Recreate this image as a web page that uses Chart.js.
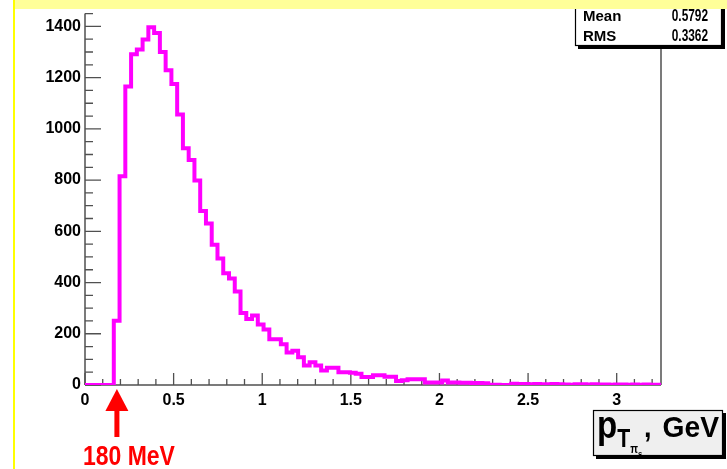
<!DOCTYPE html>
<html>
<head>
<meta charset="utf-8">
<script src="https://cdn.jsdelivr.net/npm/chart.js@4.4.1/dist/chart.umd.min.js"></script>
<style>
  html, body { margin: 0; padding: 0; background: #ffffff; overflow: hidden; }
  canvas { display: block; }
</style>
</head>
<body>
<canvas id="c" width="727" height="469"></canvas>
<script>
// Histogram binning: 100 bins between 0 and 3.25 GeV
const binLow = 0;
const binHigh = 3.25;
const nBins = 100;

// Entries per bin
const counts = [
  0, 0, 0, 0, 0, 251, 815, 1165, 1291, 1310,
  1349, 1397, 1374, 1300, 1229, 1175, 1056, 924, 878, 798,
  679, 631, 548, 494, 436, 416, 365, 281, 258, 271,
  236, 217, 179, 179, 159, 127, 134, 108, 76, 89,
  76, 57, 67, 67, 50, 50, 48, 44, 31, 31,
  38, 38, 32, 32, 16, 19, 22, 22, 22, 10,
  10, 10, 18, 10, 10, 9, 9, 8, 8, 7,
  1, 1, 0, 0, 5, 4, 4, 3, 4, 3,
  3, 4, 3, 2, 1, 3, 3, 2, 3, 2,
  2, 1, 2, 2, 1, 2, 1, 2, 1, 1
];

// Axis ticks
const xMajorTicks = [0, 0.5, 1, 1.5, 2, 2.5, 3];
const xTickLabels = ['0', '0.5', '1', '1.5', '2', '2.5', '3'];
const xMinorStep = 0.1;
const yMajorTicks = [0, 200, 400, 600, 800, 1000, 1200, 1400];
const yTickLabels = ['0', '200', '400', '600', '800', '1000', '1200', '1400'];
const yMinorStep = 50;
const yMax = 1450;

// Statistics box entries
const statNames = ['Mean', 'RMS'];
const statValues = ['0.5792', '0.3362'];

// Threshold marker
const thresholdGeV = 0.18;
const thresholdLabel = '180 MeV';

const FONT = "'Liberation Sans', Arial, sans-serif";
const HIST_COLOR = '#ff00ff';
const AXIS_COLOR = '#505050';

// Step outline points: one point per bin lower edge plus the last upper edge
const binWidth = (binHigh - binLow) / nBins;
const outline = counts.map((v, i) => ({ x: binLow + i * binWidth, y: v }));
outline.push({ x: binHigh, y: counts[counts.length - 1] });

function isMajor(value, majors) {
  return majors.some(m => Math.abs(m - value) < 1e-6);
}

// Text drawn with an optional horizontal squeeze (condensed lettering)
function squeezedText(ctx, text, x, y, font, sx, align) {
  ctx.save();
  ctx.font = font;
  const w = ctx.measureText(text).width * sx;
  let left = x;
  if (align === 'right') left = x - w;
  else if (align === 'center') left = x - w / 2;
  ctx.translate(left, y);
  ctx.scale(sx, 1);
  ctx.textAlign = 'left';
  ctx.textBaseline = 'alphabetic';
  ctx.fillText(text, 0, 0);
  ctx.restore();
  return w;
}

// Inward-pointing axis ticks, drawn from the scales
const rootAxes = {
  id: 'rootAxes',
  beforeDatasetsDraw(chart) {
    const { ctx, chartArea: a, scales: { x, y } } = chart;
    ctx.save();
    ctx.strokeStyle = AXIS_COLOR;
    ctx.lineWidth = 1.5;
    const y0 = y.getPixelForValue(0);
    const x0 = x.getPixelForValue(binLow);
    const xr = x.getPixelForValue(binHigh);
    ctx.beginPath();
    ctx.moveTo(a.left, y0); ctx.lineTo(a.right, y0);
    ctx.moveTo(x0, y0); ctx.lineTo(x0, a.top);
    ctx.moveTo(xr, y0); ctx.lineTo(xr, a.top);
    ctx.stroke();
    ctx.lineWidth = 1.3;
    ctx.beginPath();
    x.ticks.forEach(t => {
      const px = x.getPixelForValue(t.value);
      const len = isMajor(t.value, xMajorTicks) ? 12 : 6;
      ctx.moveTo(px, y0); ctx.lineTo(px, y0 - len);
    });
    y.ticks.forEach(t => {
      const py = y.getPixelForValue(t.value);
      const len = isMajor(t.value, yMajorTicks) ? 16 : 8;
      ctx.moveTo(x0, py); ctx.lineTo(x0 + len, py);
    });
    ctx.stroke();
    ctx.restore();
  }
};

function shadowBox(ctx, l, t, r, b, fill) {
  ctx.fillStyle = '#000000';
  ctx.fillRect(l + 3, t + 3, r - l, b - t);
  ctx.fillStyle = fill;
  ctx.fillRect(l, t, r - l, b - t);
  ctx.strokeStyle = '#000000';
  ctx.lineWidth = 1.2;
  ctx.strokeRect(l + 0.5, t + 0.5, r - l - 1, b - t - 1);
}

// Statistics box, axis title, threshold arrow and page decorations
const decorations = {
  id: 'decorations',
  afterDraw(chart) {
    const { ctx, scales: { x } } = chart;
    ctx.save();

    // statistics box
    shadowBox(ctx, 575, -10, 722, 46, '#ffffff');
    ctx.fillStyle = '#000000';
    statNames.forEach((n, i) => {
      const by = 21 + i * 20;
      squeezedText(ctx, n, 583, by, 'bold 15px ' + FONT, 1, 'left');
      squeezedText(ctx, statValues[i], 708, by, 'bold 16px ' + FONT, 0.74, 'right');
    });

    // x-axis title box: p_{T_{pi_s}}, GeV
    shadowBox(ctx, 593, 410, 723, 456, '#efefef');
    ctx.fillStyle = '#000000';
    let cx = 597;
    cx += squeezedText(ctx, 'p', cx, 438, 'bold 39px ' + FONT, 0.85, 'left');
    cx += squeezedText(ctx, 'T', cx, 447, 'bold 25px ' + FONT, 0.85, 'left');
    cx += squeezedText(ctx, '\u03c0', cx, 453, 'bold 12px ' + FONT, 0.85, 'left');
    squeezedText(ctx, 's', cx, 457, 'bold 9px ' + FONT, 0.85, 'left');
    squeezedText(ctx, ',', 644, 437, 'bold 30px ' + FONT, 0.9, 'left');
    squeezedText(ctx, 'GeV', 719, 437, 'bold 30px ' + FONT, 0.94, 'right');

    // threshold arrow at the stated energy
    const ax = x.getPixelForValue(thresholdGeV);
    ctx.fillStyle = '#ff0000';
    ctx.beginPath();
    ctx.moveTo(ax, 389);
    ctx.lineTo(ax + 11.5, 411);
    ctx.lineTo(ax - 11.5, 411);
    ctx.closePath();
    ctx.fill();
    ctx.fillRect(ax - 2.5, 410, 5, 27);
    squeezedText(ctx, thresholdLabel, 83, 465, 'bold 28px ' + FONT, 0.82, 'left');

    // page edge decorations
    ctx.fillStyle = '#ffff99';
    ctx.fillRect(13, 0, 727 - 13, 9);
    ctx.fillStyle = '#ffff00';
    ctx.fillRect(13, 0, 2, 469);
    ctx.restore();
  }
};

new Chart(document.getElementById('c'), {
  type: 'line',
  data: {
    datasets: [{
      data: outline,
      stepped: 'before',
      borderColor: HIST_COLOR,
      borderWidth: 4,
      borderJoinStyle: 'miter',
      borderCapStyle: 'butt',
      pointRadius: 0,
      fill: false
    }]
  },
  options: {
    responsive: false,
    devicePixelRatio: 1,
    animation: false,
    layout: { padding: { top: 9, right: 66, left: 0, bottom: 0 } },
    plugins: { legend: { display: false }, tooltip: { enabled: false } },
    scales: {
      x: {
        type: 'linear',
        min: binLow,
        max: binHigh,
        afterBuildTicks(scale) {
          const ticks = [];
          for (let i = 0; i * xMinorStep <= 3.2 + 1e-9; i++) {
            ticks.push({ value: Math.round(i * xMinorStep * 10) / 10 });
          }
          scale.ticks = ticks;
        },
        afterFit(scale) { scale.height = 84; },
        border: { display: false },
        grid: { display: false, drawTicks: false },
        ticks: {
          autoSkip: false,
          maxRotation: 0,
          padding: 6,
          color: '#000000',
          font: { family: FONT, size: 16, weight: 'bold' },
          callback(value) {
            const k = xMajorTicks.findIndex(m => Math.abs(m - value) < 1e-6);
            return k >= 0 ? xTickLabels[k] : '';
          }
        }
      },
      y: {
        type: 'linear',
        min: 0,
        max: yMax,
        afterBuildTicks(scale) {
          const ticks = [];
          for (let v = 0; v <= yMax; v += yMinorStep) ticks.push({ value: v });
          scale.ticks = ticks;
        },
        afterFit(scale) { scale.width = 85; },
        border: { display: false },
        grid: { display: false, drawTicks: false },
        ticks: {
          autoSkip: false,
          padding: 4,
          color: '#000000',
          font: { family: FONT, size: 16, weight: 'bold' },
          callback(value) {
            const k = yMajorTicks.indexOf(value);
            return k >= 0 ? yTickLabels[k] : '';
          }
        }
      }
    }
  },
  plugins: [rootAxes, decorations]
});
</script>
</body>
</html>
